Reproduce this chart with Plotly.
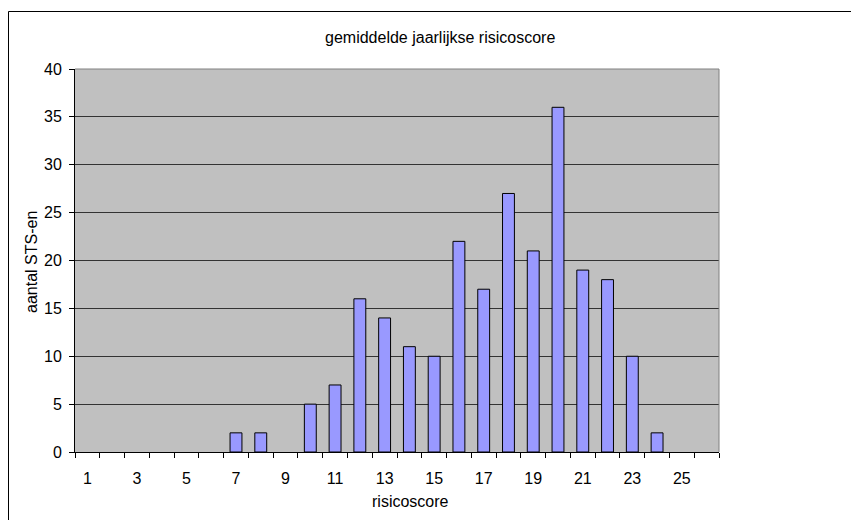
import plotly.graph_objects as go

categories = list(range(1, 27))
counts = [None, None, None, None, None, None, 2, 2, None, 5, 7, 16, 14, 11, 10, 22, 17, 27, 21, 36, 19, 18, 10, 2, None, None]
x_tick_labels = [str(v) for v in range(1, 27, 2)]
x_tick_vals = list(range(1, 27, 2))

# page body has an 8px margin; work in figure-relative pixel coordinates
OX, OY = 8, 8
W, H = 859 - OX, 520 - OY
L, R, T, B = 75 - OX, 719 - OX, 69 - OY, 452 - OY

fig = go.Figure(go.Bar(
    x=categories, y=counts,
    marker=dict(color="#9999FF", line=dict(color="#000000", width=1)),
    width=0.48,
))

def px(x):
    return (x - OX - L) / (R - L)

def py(y):
    return (B - (y - OY)) / (B - T)

font = dict(family="Liberation Sans, Arial, sans-serif", size=16, color="#000000")

fig.update_layout(
    width=W, height=H,
    margin=dict(l=L, r=W - R, t=T, b=H - B, pad=0),
    paper_bgcolor="#FFFFFF",
    plot_bgcolor="#C0C0C0",
    font=font,
    showlegend=False,
    xaxis=dict(
        range=[0.5, 26.5], tickvals=x_tick_vals, ticktext=x_tick_labels,
        ticks="", showgrid=False, zeroline=False,
        showline=True, linecolor="#000000", linewidth=1,
        minor=dict(tick0=0.5, dtick=1, ticks="outside", ticklen=5, tickcolor="#000000", showgrid=False),
        tickfont=font, ticklabelstandoff=12,
    ),
    yaxis=dict(
        range=[0, 40], dtick=5, ticks="outside", ticklen=5, tickcolor="#000000",
        showgrid=True, gridcolor="#333333", gridwidth=1, zeroline=False,
        showline=True, linecolor="#000000", linewidth=1,
        tickfont=font, ticklabelstandoff=4,
    ),
    shapes=[
        dict(type="line", xref="paper", yref="paper", x0=0, x1=1, y0=1, y1=1,
             line=dict(color="#808080", width=1)),
        dict(type="line", xref="paper", yref="paper", x0=1, x1=1, y0=0, y1=1,
             line=dict(color="#808080", width=1)),
        dict(type="rect", xref="paper", yref="paper",
             x0=px(8.5), x1=px(857.5), y0=py(540), y1=py(11.5),
             line=dict(color="#000000", width=1), fillcolor="rgba(0,0,0,0)", layer="below"),
    ],
    annotations=[
        dict(text="gemiddelde jaarlijkse risicoscore", xref="paper", yref="paper",
             x=px(440), y=py(38), showarrow=False, font=font, xanchor="center", yanchor="middle"),
        dict(text="risicoscore", xref="paper", yref="paper",
             x=px(410), y=py(501), showarrow=False, font=font, xanchor="center", yanchor="middle"),
        dict(text="aantal STS-en", xref="paper", yref="paper", textangle=-90,
             x=px(31), y=py(262), showarrow=False, font=font, xanchor="center", yanchor="middle"),
    ],
)

fig.write_html("out.html")
